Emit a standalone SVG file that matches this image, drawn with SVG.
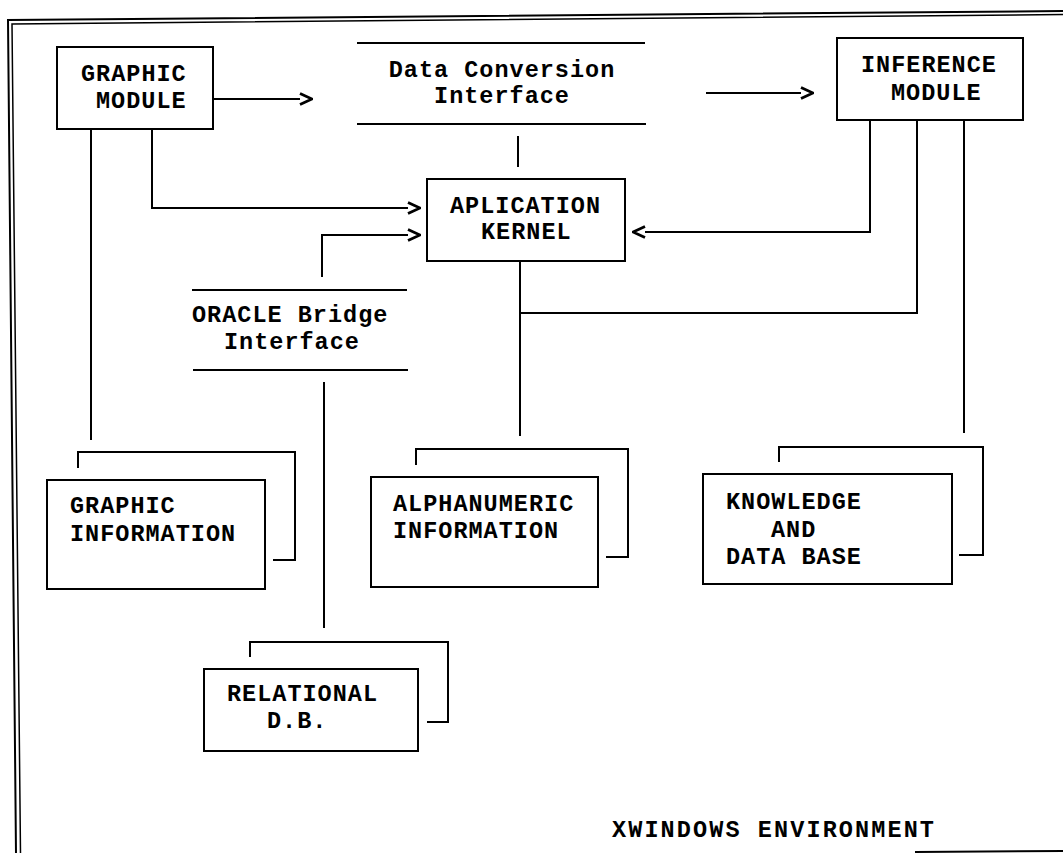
<svg xmlns="http://www.w3.org/2000/svg" width="1063" height="853" viewBox="0 0 1063 853">
<style>
.box{fill:#fff;stroke:#000;stroke-width:2}
.ln{fill:none;stroke:#000;stroke-width:2}
.t{font-family:"Liberation Mono","Courier New",monospace;font-weight:bold;font-size:23.5px;letter-spacing:1px;fill:#000}
.tm{text-anchor:middle}
</style>
<defs>
<marker id="chev" viewBox="0 0 14 14" markerWidth="14" markerHeight="14" markerUnits="userSpaceOnUse" refX="1" refY="7" orient="auto">
<path d="M1,1.5 L13,7 L1,12.5" fill="none" stroke="#000" stroke-width="2.8"/>
</marker>
</defs>
<rect width="1063" height="853" fill="#fff"/>
<g id="frame">
<path class="ln" d="M16,853 L8,20 L1063,11"/>
<path class="ln" d="M20.5,853 L12,24 L1063,14.5" style="stroke-width:1.5"/>
<path class="ln" d="M915,852 L1063,851"/>
</g>
<g id="connectors">
<path class="ln" d="M213,99 H300" marker-end="url(#chev)"/>
<path class="ln" d="M706,93 H801" marker-end="url(#chev)"/>
<path class="ln" d="M518,136 V167"/>
<path class="ln" d="M152,129 V208 H408" marker-end="url(#chev)"/>
<path class="ln" d="M322,277 V235 H408" marker-end="url(#chev)"/>
<path class="ln" d="M870,120 V232 H645" marker-end="url(#chev)"/>
<path class="ln" d="M917,120 V313 H520"/>
<path class="ln" d="M520,261 V436"/>
<path class="ln" d="M91,129 V440"/>
<path class="ln" d="M964,120 V433"/>
<path class="ln" d="M324,382 V628"/>
</g>
<g id="graphic-module">
<rect class="box" x="57" y="47" width="156" height="82"/>
<text class="t" x="81" y="81">GRAPHIC</text>
<text class="t" x="96" y="108">MODULE</text>
</g>
<g id="data-conversion-interface">
<path class="ln" d="M357,43 H645 M357,124 H646"/>
<text class="t tm" x="502" y="77">Data Conversion</text>
<text class="t tm" x="502" y="103">Interface</text>
</g>
<g id="inference-module">
<rect class="box" x="837" y="38" width="186" height="82"/>
<text class="t" x="861" y="72">INFERENCE</text>
<text class="t" x="891" y="100">MODULE</text>
</g>
<g id="aplication-kernel">
<rect class="box" x="427" y="179" width="198" height="82"/>
<text class="t" x="450" y="213">APLICATION</text>
<text class="t" x="481" y="239">KERNEL</text>
</g>
<g id="oracle-bridge-interface">
<path class="ln" d="M192,290 H407 M193,370 H408"/>
<text class="t" x="192" y="322">ORACLE Bridge</text>
<text class="t" x="224" y="349">Interface</text>
</g>
<g id="graphic-information">
<path class="ln" d="M78,468 V452 H295 V560 H273"/>
<rect class="box" x="47" y="480" width="218" height="109"/>
<text class="t" x="70" y="513">GRAPHIC</text>
<text class="t" x="70" y="541">INFORMATION</text>
</g>
<g id="alphanumeric-information">
<path class="ln" d="M416,465 V449 H628 V557 H606"/>
<rect class="box" x="371" y="477" width="227" height="110"/>
<text class="t" x="393" y="511">ALPHANUMERIC</text>
<text class="t" x="393" y="538">INFORMATION</text>
</g>
<g id="knowledge-data-base">
<path class="ln" d="M779,462 V447 H983 V555 H959"/>
<rect class="box" x="703" y="474" width="249" height="110"/>
<text class="t" x="726" y="509">KNOWLEDGE</text>
<text class="t" x="771" y="537">AND</text>
<text class="t" x="726" y="564">DATA BASE</text>
</g>
<g id="relational-db">
<path class="ln" d="M250,657 V642 H448 V722 H427"/>
<rect class="box" x="204" y="669" width="214" height="82"/>
<text class="t" x="227" y="701">RELATIONAL</text>
<text class="t" x="267" y="728">D.B.</text>
</g>
<g id="xwindows-label">
<text class="t" x="612" y="837" style="letter-spacing:2.1px">XWINDOWS ENVIRONMENT</text>
</g>
</svg>
